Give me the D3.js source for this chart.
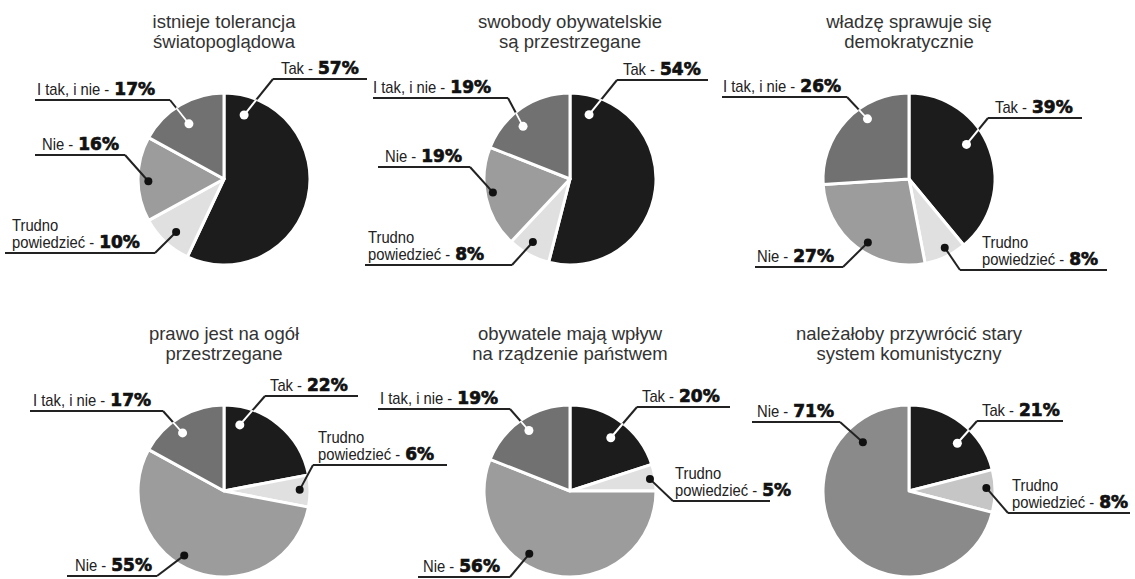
<!DOCTYPE html>
<html><head><meta charset="utf-8">
<script src="https://cdn.jsdelivr.net/npm/d3@7/dist/d3.min.js"></script>
<style>body{margin:0;background:#fff}</style>
</head><body><svg id="c" width="1135" height="579"></svg>
<script>
// ---- data ----
const titles = [
  ["istnieje tolerancja", "światopoglądowa"],
  ["swobody obywatelskie", "są przestrzegane"],
  ["władzę sprawuje się", "demokratycznie"],
  ["prawo jest na ogół", "przestrzegane"],
  ["obywatele mają wpływ", "na rządzenie państwem"],
  ["należałoby przywrócić stary", "system komunistyczny"]
];
const categories = ["Tak", "Trudno powiedzieć", "Nie", "I tak, i nie"];
const labelLines = [["Tak -"], ["Trudno", "powiedzieć -"], ["Nie -"], ["I tak, i nie -"]];
const seriesTak    = [57, 54, 39, 22, 20, 21];
const seriesTrudno = [10,  8,  8,  6,  5,  8];
const seriesNie    = [16, 19, 27, 55, 56, 71];
const seriesItak   = [17, 19, 26, 17, 19,  0];

// ---- layout / style ----
const R = 86;
const colX = d3.scaleOrdinal().domain([0, 1, 2]).range([224, 570, 909]);
const rowY = d3.scaleOrdinal().domain([0, 1]).range([179, 491]);
const fills = ["#1c1c1c", "#e0e0e0", "#9c9c9c", "#717171"];
const fillsLast = ["#1c1c1c", "#c6c6c6", "#8a8a8a", "#717171"];
const dotWhite = [true, false, false, true];
const NARROW = 0.87;
// per pie, per category: dot (t fraction along slice, k radius fraction), underline x1,x2,y and text x (relative to centre)
const layouts = [
  [{t:.085,k:.78,x1:49,x2:143,uy:-100,tx:57},{t:.47,k:.83,x1:-219,x2:-69,uy:74,tx:-212},{t:.47,k:.88,x1:-189,x2:-99,uy:-24,tx:-182},{t:.47,k:.76,x1:-189,x2:-54,uy:-79,tx:-187}],
  [{t:.085,k:.78,x1:47,x2:138,uy:-99,tx:53},{t:.56,k:.85,x1:-205,x2:-58,uy:86,tx:-202},{t:.54,k:.91,x1:-192,x2:-100,uy:-12,tx:-185},{t:.39,k:.82,x1:-197,x2:-62,uy:-81,tx:-197}],
  [{t:.42,k:.78,x1:79,x2:173,uy:-61,tx:86},{t:.42,k:.9,x1:51,x2:198,uy:91,tx:73},{t:.45,k:.88,x1:-154,x2:-66,uy:88,tx:-152},{t:.63,k:.85,x1:-187,x2:-62,uy:-82,tx:-186}],
  [{t:.17,k:.79,x1:41,x2:134,uy:-95,tx:46},{t:.46,k:.88,x1:89,x2:223,uy:-26,tx:94},{t:.56,k:.88,x1:-157,x2:-67,uy:85,tx:-149},{t:.42,k:.83,x1:-194,x2:-61,uy:-80,tx:-191}],
  [{t:.52,k:.78,x1:67,x2:160,uy:-84,tx:72},{t:.53,k:.94,x1:103,x2:200,uy:10,tx:105},{t:.61,k:.87,x1:-152,x2:-60,uy:86,tx:-147},{t:.5,k:.85,x1:-192,x2:-60,uy:-82,tx:-190}],
  [{t:.6,k:.79,x1:68,x2:154,uy:-70,tx:73},{t:.42,k:.9,x1:99,x2:221,uy:22,tx:103},{t:.83,k:.78,x1:-157,x2:-69,uy:-69,tx:-152},null]
];

const svg = d3.select("#c");
const pie = d3.pie().sort(null).value(d => d.v).startAngle(0).endAngle(2 * Math.PI);
const arc = d3.arc().innerRadius(0).outerRadius(R);
const regFont = "'Liberation Sans',Arial,sans-serif";
const boldFont = "'DejaVu Sans',Verdana,sans-serif";

for (let i = 0; i < 6; i++) {
  const cx = colX(i % 3), cy = rowY(Math.floor(i / 3));
  const data = [seriesTak[i], seriesTrudno[i], seriesNie[i], seriesItak[i]]
    .map((v, c) => ({v, c})).filter(d => d.v > 0);
  const arcs = pie(data);
  const cols = i === 5 ? fillsLast : fills;
  const g = svg.append("g").attr("transform", `translate(${cx},${cy})`);

  // title
  const tt = g.append("text").attr("text-anchor", "middle")
    .attr("font-family", "'Liberation Sans',Arial,sans-serif").attr("font-size", 18.5).attr("fill", "#333");
  titles[i].forEach((line, j) => tt.append("tspan").attr("x", 0).attr("y", -151 + j * 20).text(line));

  // clip
  const clipId = "clip" + i;
  svg.append("clipPath").attr("id", clipId).append("circle").attr("cx", cx).attr("cy", cy).attr("r", R);

  g.selectAll("path.slice").data(arcs).join("path").attr("class", "slice")
    .attr("d", arc).attr("fill", d => cols[d.data.c])
    .attr("stroke", "#fff").attr("stroke-width", 3).attr("stroke-linejoin", "round");

  arcs.forEach(a => {
    const c = a.data.c, L = layouts[i][c];
    const ang = a.startAngle + L.t * (a.endAngle - a.startAngle);
    const dx = Math.sin(ang) * R * L.k, dy = -Math.cos(ang) * R * L.k;
    const ex = L.x1 > 0 ? L.x1 : L.x2;
    // underline
    g.append("line").attr("x1", L.x1).attr("x2", L.x2).attr("y1", L.uy).attr("y2", L.uy)
      .attr("stroke", "#222").attr("stroke-width", 2);
    // leader
    g.append("line").attr("x1", ex).attr("y1", L.uy).attr("x2", dx).attr("y2", dy)
      .attr("stroke", "#222").attr("stroke-width", 2);
    if (dotWhite[c]) {
      svg.append("g").attr("clip-path", `url(#${clipId})`).append("line")
        .attr("x1", cx + ex).attr("y1", cy + L.uy).attr("x2", cx + dx).attr("y2", cy + dy)
        .attr("stroke", "#fff").attr("stroke-width", 2);
    }
    svg.append("circle").attr("cx", cx + dx).attr("cy", cy + dy).attr("r", dotWhite[c] ? 4.5 : 4)
      .attr("fill", dotWhite[c] ? "#fff" : "#111");
    // label text: narrow regular part + heavy bold value
    const lines = labelLines[c];
    const n = lines.length;
    lines.forEach((ln, j) => {
      const base = L.uy - 5 - (n - 1 - j) * 17;
      const t = g.append("text")
        .attr("transform", `translate(${L.tx},${base}) scale(${NARROW},1)`)
        .attr("font-family", regFont).attr("font-size", 17).attr("fill", "#222").text(ln);
      if (j === n - 1) {
        const w = t.node().getComputedTextLength() * NARROW;
        g.append("text").attr("x", L.tx + w + 5).attr("y", base)
          .attr("font-family", boldFont).attr("font-weight", "bold").attr("font-size", 17)
          .attr("fill", "#111").attr("stroke", "#111").attr("stroke-width", 0.7)
          .text(a.data.v + "%");
      }
    });
  });
}
</script></body></html>
